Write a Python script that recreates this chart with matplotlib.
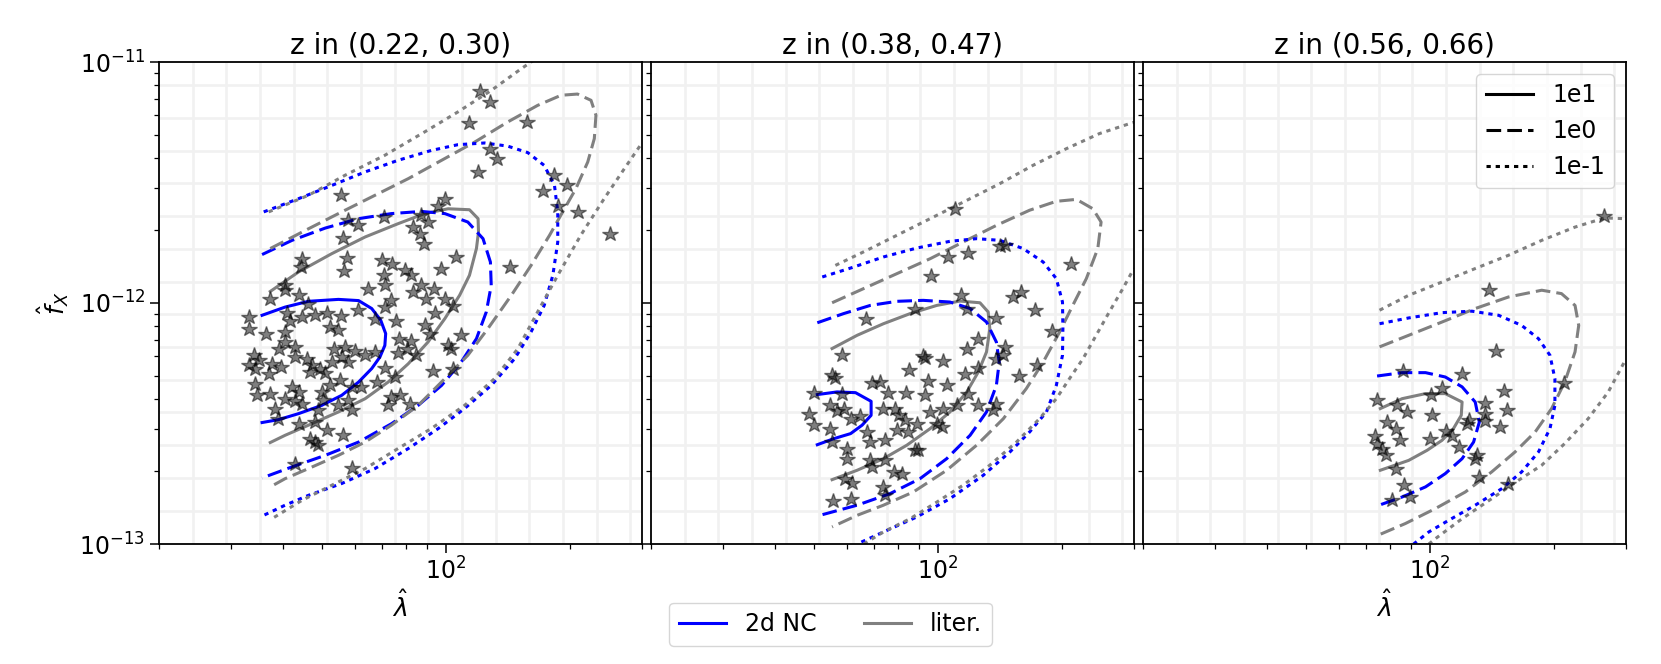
import numpy as np
import matplotlib.pyplot as plt
from matplotlib.lines import Line2D
from matplotlib.ticker import NullFormatter

plt.rcParams['font.size'] = 17

titles = ['z in (0.22, 0.30)', 'z in (0.38, 0.47)', 'z in (0.56, 0.66)']
level_labels = ['1e1', '1e0', '1e-1']
model_labels = ['2d NC', 'liter.']

# stars, (log10 lambda, log10 f_X)
p1_stars = [
    (2.082, -11.122), (2.106, -11.166), (2.055, -11.252), (2.197, -11.249), (2.108, -11.362),
    (2.125, -11.404), (2.078, -11.456), (2.264, -11.467), (2.294, -11.512), (2.235, -11.537),
    (2.272, -11.597), (2.322, -11.622), (2.400, -11.712), (1.998, -11.570), (1.981, -11.597),
    (1.744, -11.550), (1.762, -11.657), (1.785, -11.678), (1.750, -11.729), (1.850, -11.643),
    (1.940, -11.636), (1.956, -11.664), (1.920, -11.685), (1.936, -11.712), (1.947, -11.754),
    (2.025, -11.809), (1.987, -11.860), (2.155, -11.851), (1.649, -11.816), (1.647, -11.851),
    (1.758, -11.813), (1.752, -11.869), (1.845, -11.823), (1.869, -11.837), (1.901, -11.864),
    (1.914, -11.885), (1.850, -11.885), (1.851, -11.924), (1.809, -11.940), (1.608, -11.924),
    (1.607, -11.947), (1.572, -11.982), (1.642, -11.968), (1.665, -12.003), (1.940, -11.924),
    (1.971, -11.940), (1.920, -11.954), (1.952, -11.985), (1.867, -11.989), (1.851, -12.017),
    (1.998, -11.982), (2.017, -12.012), (1.972, -12.040), (1.785, -12.030), (1.744, -12.054),
    (1.710, -12.040), (1.681, -12.051), (1.649, -12.058), (1.612, -12.040), (1.621, -12.076),
    (1.519, -12.058), (1.521, -12.106), (1.561, -12.127), (1.718, -12.100), (1.738, -12.113),
    (1.827, -12.065), (1.877, -12.076), (1.948, -12.093), (1.960, -12.127), (1.885, -12.148),
    (1.914, -12.159), (1.904, -12.189), (1.883, -12.206), (1.928, -12.217), (2.037, -12.131),
    (2.005, -12.176), (2.013, -12.192), (1.608, -12.120), (1.608, -12.162), (1.633, -12.182),
    (1.594, -12.192), (1.726, -12.192), (1.754, -12.182), (1.778, -12.200), (1.803, -12.217),
    (1.827, -12.203), (1.532, -12.217), (1.544, -12.238), (1.519, -12.259), (1.536, -12.272),
    (1.576, -12.252), (1.599, -12.265), (1.568, -12.293), (1.633, -12.224), (1.661, -12.231),
    (1.673, -12.259), (1.722, -12.245), (1.746, -12.224), (1.762, -12.245), (1.693, -12.272),
    (1.706, -12.289), (1.669, -12.286), (1.851, -12.270), (1.875, -12.307), (1.968, -12.283),
    (2.017, -12.272), (1.536, -12.335), (1.540, -12.383), (1.572, -12.376), (1.625, -12.348),
    (1.641, -12.369), (1.608, -12.397), (1.633, -12.408), (1.649, -12.418), (1.697, -12.369),
    (1.701, -12.404), (1.742, -12.321), (1.718, -12.342), (1.770, -12.348), (1.794, -12.348),
    (1.831, -12.328), (1.762, -12.404), (1.770, -12.445), (1.738, -12.425), (1.867, -12.390),
    (1.888, -12.383), (1.859, -12.425), (1.912, -12.418), (1.584, -12.438), (1.592, -12.480),
    (1.641, -12.501), (1.689, -12.445), (1.681, -12.494), (1.710, -12.528), (1.669, -12.563),
    (1.689, -12.590), (1.681, -12.577), (1.750, -12.549), (1.633, -12.667), (1.772, -12.684),
]
p2_stars = [
    (2.041, -11.611), (2.163, -11.758), (2.150, -11.763), (2.023, -11.809), (2.074, -11.791),
    (1.983, -11.888), (2.324, -11.837), (2.183, -11.975), (2.201, -11.954), (2.235, -12.030),
    (2.057, -11.968), (1.944, -12.026), (1.825, -12.068), (2.070, -12.023), (2.141, -12.062),
    (2.278, -12.117), (2.098, -12.151), (2.070, -12.192), (2.163, -12.182), (2.159, -12.217),
    (2.142, -12.231), (1.766, -12.217), (1.964, -12.220), (1.968, -12.228), (2.013, -12.242),
    (1.930, -12.279), (1.742, -12.300), (1.750, -12.311), (2.066, -12.293), (2.098, -12.270),
    (2.241, -12.259), (2.197, -12.303), (1.839, -12.330), (1.859, -12.328), (1.976, -12.325),
    (2.021, -12.342), (1.879, -12.372), (1.922, -12.372), (1.968, -12.383), (2.074, -12.376),
    (2.142, -12.418), (2.134, -12.445), (2.098, -12.425), (2.045, -12.422), (2.013, -12.441),
    (1.697, -12.372), (1.766, -12.376), (1.685, -12.459), (1.697, -12.507), (1.738, -12.425),
    (1.754, -12.449), (1.770, -12.438), (1.787, -12.480), (1.811, -12.469), (1.867, -12.438),
    (1.896, -12.438), (1.904, -12.466), (1.920, -12.487), (1.948, -12.501), (1.981, -12.452),
    (1.997, -12.501), (2.009, -12.514), (1.738, -12.521), (1.742, -12.577), (1.827, -12.535),
    (1.835, -12.577), (1.871, -12.570), (1.900, -12.528), (1.928, -12.535), (1.778, -12.604),
    (1.778, -12.646), (1.835, -12.653), (1.871, -12.653), (1.839, -12.680), (1.892, -12.701),
    (1.912, -12.708), (1.944, -12.611), (1.952, -12.611), (1.774, -12.729), (1.790, -12.745),
    (1.867, -12.763), (1.871, -12.798), (1.744, -12.823), (1.787, -12.812),
]
p3_stars = [
    (2.424, -11.639), (2.144, -11.947), (2.160, -12.200), (1.934, -12.283), (2.078, -12.293),
    (2.327, -12.330), (2.029, -12.353), (2.003, -12.380), (2.179, -12.366), (1.871, -12.404),
    (1.920, -12.425), (1.944, -12.452), (2.005, -12.466), (2.134, -12.413), (2.134, -12.459),
    (2.187, -12.445), (2.094, -12.487), (2.090, -12.501), (2.134, -12.491), (2.171, -12.514),
    (1.896, -12.494), (1.916, -12.521), (1.928, -12.570), (1.867, -12.552), (1.871, -12.583),
    (1.883, -12.604), (1.892, -12.629), (2.001, -12.563), (2.039, -12.532), (2.053, -12.552),
    (2.070, -12.597), (2.114, -12.629), (2.110, -12.646), (2.118, -12.722), (1.917, -12.690),
    (1.936, -12.754), (1.908, -12.819), (1.952, -12.805), (2.191, -12.749),
]

# contours (log10 lambda, log10 f_X); nc = 2d NC, lit = literature
p1_nc_1e1_x = [1.552, 1.608, 1.665, 1.738, 1.787, 1.819, 1.841, 1.853, 1.851, 1.839, 1.819, 1.787, 1.746, 1.697, 1.641, 1.592, 1.552]
p1_nc_1e1_y = [-12.051, -12.017, -11.993, -11.985, -11.990, -12.023, -12.072, -12.127, -12.176, -12.224, -12.272, -12.328, -12.383, -12.425, -12.459, -12.484, -12.496]
p1_lit_1e1_x = [1.572, 1.641, 1.722, 1.803, 1.883, 1.948, 2.005, 2.057, 2.078, 2.079, 2.074, 2.057, 2.033, 1.997, 1.956, 1.908, 1.859, 1.803, 1.738, 1.665, 1.608, 1.572]
p1_lit_1e1_y = [-11.952, -11.871, -11.795, -11.726, -11.671, -11.629, -11.609, -11.613, -11.650, -11.705, -11.774, -11.885, -11.968, -12.065, -12.162, -12.252, -12.328, -12.397, -12.452, -12.507, -12.549, -12.579]
p1_nc_1e0_x = [1.552, 1.625, 1.706, 1.787, 1.867, 1.940, 1.997, 2.053, 2.090, 2.108, 2.110, 2.098, 2.074, 2.037, 1.989, 1.932, 1.867, 1.787, 1.706, 1.625, 1.552]
p1_nc_1e0_y = [-11.799, -11.740, -11.689, -11.650, -11.629, -11.620, -11.629, -11.664, -11.733, -11.830, -11.927, -12.037, -12.148, -12.245, -12.342, -12.425, -12.501, -12.577, -12.632, -12.680, -12.726]
p1_lit_1e0_x = [1.572, 1.665, 1.746, 1.827, 1.908, 1.989, 2.070, 2.150, 2.223, 2.280, 2.320, 2.353, 2.365, 2.361, 2.345, 2.316, 2.284, 2.252, 2.207, 2.159,
                2.102, 2.053, 1.997, 1.932, 1.867, 1.803, 1.738, 1.665, 1.608, 1.572]
p1_lit_1e0_y = [-11.774, -11.692, -11.622, -11.553, -11.484, -11.408, -11.332, -11.249, -11.180, -11.138, -11.133, -11.159, -11.221, -11.318, -11.415, -11.526, -11.622, -11.719, -11.844, -11.968,
                -12.106, -12.217, -12.314, -12.425, -12.507, -12.577, -12.632, -12.687, -12.729, -12.763]
p1_nc_1em1_x = [1.556, 1.641, 1.722, 1.803, 1.883, 1.964, 2.029, 2.094, 2.150, 2.199, 2.239, 2.264, 2.272, 2.272, 2.260, 2.239, 2.207, 2.167, 2.110, 2.045,
                1.981, 1.908, 1.827, 1.746, 1.665, 1.608, 1.556]
p1_nc_1em1_y = [-11.622, -11.567, -11.512, -11.456, -11.408, -11.367, -11.343, -11.336, -11.349, -11.376, -11.429, -11.512, -11.622, -11.747, -11.885, -12.010, -12.120, -12.231, -12.342, -12.438,
                -12.521, -12.604, -12.687, -12.749, -12.798, -12.839, -12.881]
p1_lit_1em1_top_x = [1.568, 1.665, 1.754, 1.851, 1.948, 2.029, 2.110, 2.183, 2.207, 2.240]
p1_lit_1em1_top_y = [-11.622, -11.553, -11.470, -11.387, -11.290, -11.207, -11.118, -11.028, -11.000, -10.960]
p1_lit_1em1_bot_x = [2.520, 2.473, 2.434, 2.385, 2.328, 2.272, 2.223, 2.175, 2.118, 2.045, 1.964, 1.883, 1.803, 1.722, 1.649, 1.576]
p1_lit_1em1_bot_y = [-11.270, -11.346, -11.443, -11.567, -11.719, -11.885, -12.037, -12.189, -12.314, -12.425, -12.521, -12.604, -12.687, -12.756, -12.819, -12.895]

p2_nc_1e1_x = [1.706, 1.754, 1.799, 1.837, 1.837, 1.815, 1.787, 1.746, 1.706]
p2_nc_1e1_y = [-12.380, -12.369, -12.372, -12.408, -12.466, -12.507, -12.542, -12.563, -12.588]
p2_lit_1e1_x = [1.742, 1.803, 1.867, 1.932, 1.997, 2.053, 2.102, 2.122, 2.126, 2.118, 2.098, 2.070, 2.029, 1.981, 1.924, 1.867, 1.803, 1.742]
p2_lit_1e1_y = [-12.189, -12.134, -12.086, -12.044, -12.010, -11.992, -11.999, -12.037, -12.106, -12.203, -12.286, -12.369, -12.452, -12.521, -12.590, -12.646, -12.694, -12.733]
p2_nc_1e0_x = [1.706, 1.770, 1.835, 1.900, 1.964, 2.029, 2.078, 2.118, 2.142, 2.149, 2.142, 2.118, 2.078, 2.021, 1.956, 1.883, 1.803, 1.706]
p2_nc_1e0_y = [-12.082, -12.044, -12.010, -11.993, -11.989, -11.996, -12.023, -12.079, -12.162, -12.245, -12.342, -12.452, -12.549, -12.646, -12.729, -12.791, -12.839, -12.884]
p2_lit_1e0_x = [1.742, 1.819, 1.900, 1.981, 2.061, 2.142, 2.223, 2.288, 2.337, 2.377, 2.397, 2.389, 2.361, 2.328, 2.296, 2.256, 2.215, 2.159, 2.094, 2.021,
                1.940, 1.867, 1.803, 1.742]
p2_lit_1e0_y = [-11.999, -11.940, -11.878, -11.816, -11.747, -11.678, -11.615, -11.578, -11.570, -11.609, -11.664, -11.774, -11.899, -12.010, -12.120, -12.245, -12.355, -12.480, -12.590, -12.694,
                -12.784, -12.839, -12.881, -12.929]
p2_nc_1em1_x = [1.718, 1.787, 1.867, 1.948, 2.029, 2.094, 2.150, 2.207, 2.256, 2.288, 2.303, 2.304, 2.303, 2.288, 2.264, 2.223, 2.175, 2.110, 2.029, 1.948,
                1.867, 1.803]
p2_nc_1em1_y = [-11.892, -11.855, -11.809, -11.772, -11.744, -11.733, -11.740, -11.774, -11.830, -11.899, -11.996, -12.106, -12.217, -12.342, -12.452, -12.535, -12.618, -12.715, -12.812, -12.888,
                -12.950, -13.000]
p2_lit_1em1_top_x = [1.750, 1.827, 1.908, 1.989, 2.070, 2.150, 2.231, 2.312, 2.393, 2.473, 2.520]
p2_lit_1em1_top_y = [-11.844, -11.781, -11.712, -11.643, -11.574, -11.505, -11.429, -11.360, -11.297, -11.252, -11.230]
p2_lit_1em1_bot_x = [2.500, 2.473, 2.450, 2.417, 2.385, 2.353, 2.320, 2.288, 2.247, 2.191, 2.126, 2.061, 1.997, 1.932, 1.867, 1.819]
p2_lit_1em1_bot_y = [-11.820, -11.869, -11.940, -12.037, -12.134, -12.231, -12.314, -12.397, -12.480, -12.577, -12.673, -12.756, -12.826, -12.895, -12.950, -13.000]

p3_lit_1e1_x = [1.879, 1.932, 1.989, 2.037, 2.078, 2.076, 2.057, 2.029, 1.993, 1.948, 1.879]
p3_lit_1e1_y = [-12.438, -12.397, -12.376, -12.376, -12.411, -12.466, -12.521, -12.570, -12.611, -12.653, -12.694]
p3_nc_1e0_x = [1.871, 1.932, 1.989, 2.037, 2.078, 2.110, 2.120, 2.106, 2.078, 2.037, 1.989, 1.932, 1.871]
p3_nc_1e0_y = [-12.303, -12.289, -12.289, -12.307, -12.348, -12.411, -12.494, -12.577, -12.646, -12.708, -12.763, -12.805, -12.842]
p3_lit_1e0_x = [1.877, 1.948, 2.029, 2.110, 2.191, 2.272, 2.320, 2.353, 2.362, 2.353, 2.328, 2.296, 2.256, 2.207, 2.150, 2.086, 2.013, 1.940, 1.877]
p3_lit_1e0_y = [-12.182, -12.134, -12.079, -12.023, -11.975, -11.947, -11.961, -12.010, -12.093, -12.203, -12.328, -12.438, -12.535, -12.618, -12.701, -12.784, -12.853, -12.915, -12.961]
p3_nc_1em1_x = [1.877, 1.948, 2.029, 2.102, 2.167, 2.223, 2.264, 2.292, 2.304, 2.304, 2.292, 2.264, 2.223, 2.175, 2.110, 2.045, 1.997, 1.960]
p3_nc_1em1_y = [-12.086, -12.062, -12.040, -12.034, -12.051, -12.093, -12.148, -12.217, -12.314, -12.425, -12.521, -12.618, -12.701, -12.770, -12.839, -12.902, -12.950, -13.000]
p3_lit_1em1_top_x = [1.877, 1.948, 2.029, 2.110, 2.191, 2.272, 2.353, 2.425, 2.473]
p3_lit_1em1_top_y = [-12.030, -11.968, -11.913, -11.857, -11.802, -11.740, -11.685, -11.647, -11.650]
p3_lit_1em1_bot_x = [2.500, 2.473, 2.434, 2.385, 2.328, 2.272, 2.215, 2.150, 2.078, 2.013, 1.997]
p3_lit_1em1_bot_y = [-12.190, -12.245, -12.369, -12.480, -12.583, -12.673, -12.736, -12.812, -12.895, -12.978, -13.000]

DASH = (0, (4.8, 2.0))
DOT = (0, (1.4, 1.6))
panels = [
    (p1_stars, [
        (p1_nc_1e1_x, p1_nc_1e1_y, 'blue', '-'),
        (p1_lit_1e1_x, p1_lit_1e1_y, 'gray', '-'),
        (p1_nc_1e0_x, p1_nc_1e0_y, 'blue', DASH),
        (p1_lit_1e0_x, p1_lit_1e0_y, 'gray', DASH),
        (p1_nc_1em1_x, p1_nc_1em1_y, 'blue', DOT),
        (p1_lit_1em1_top_x, p1_lit_1em1_top_y, 'gray', DOT),
        (p1_lit_1em1_bot_x, p1_lit_1em1_bot_y, 'gray', DOT),
    ]),
    (p2_stars, [
        (p2_nc_1e1_x, p2_nc_1e1_y, 'blue', '-'),
        (p2_lit_1e1_x, p2_lit_1e1_y, 'gray', '-'),
        (p2_nc_1e0_x, p2_nc_1e0_y, 'blue', DASH),
        (p2_lit_1e0_x, p2_lit_1e0_y, 'gray', DASH),
        (p2_nc_1em1_x, p2_nc_1em1_y, 'blue', DOT),
        (p2_lit_1em1_top_x, p2_lit_1em1_top_y, 'gray', DOT),
        (p2_lit_1em1_bot_x, p2_lit_1em1_bot_y, 'gray', DOT),
    ]),
    (p3_stars, [
        (p3_lit_1e1_x, p3_lit_1e1_y, 'gray', '-'),
        (p3_nc_1e0_x, p3_nc_1e0_y, 'blue', DASH),
        (p3_lit_1e0_x, p3_lit_1e0_y, 'gray', DASH),
        (p3_nc_1em1_x, p3_nc_1em1_y, 'blue', DOT),
        (p3_lit_1em1_top_x, p3_lit_1em1_top_y, 'gray', DOT),
        (p3_lit_1em1_bot_x, p3_lit_1em1_bot_y, 'gray', DOT),
    ]),
]

# evaluation-grid lines (uniform in log space)
grid_lx = np.log10(20) + 0.082 * np.arange(1, 15)
grid_ly = -11.097 - 0.1357 * np.arange(14)

fig = plt.figure(figsize=(16.61, 6.64), dpi=100)
W, H = 1661, 664
lefts = [159, 651, 1143]
axes = []
for i, (stars, curves) in enumerate(panels):
    ax = fig.add_axes([lefts[i] / W, (H - 544) / H, 483 / W, 482 / H])
    ax.set_xscale('log')
    ax.set_yscale('log')
    for gx in grid_lx:
        ax.axvline(10 ** gx, color='0.945', lw=1.9, zorder=0)
    for gy in grid_ly:
        ax.axhline(10 ** gy, color='0.945', lw=1.9, zorder=0)
    for cx, cy, col, ls in curves:
        ax.plot(10 ** np.array(cx), 10 ** np.array(cy), color=col, ls=ls, lw=2.2, zorder=2)
    sx, sy = np.array(stars).T
    ax.plot(10 ** sx, 10 ** sy, '*', color='k', alpha=0.5, ms=11.5, zorder=3)
    ax.set_xlim(20, 300)
    ax.set_ylim(1e-13, 1e-11)
    ax.set_title(titles[i], fontsize=20)
    ax.xaxis.set_minor_formatter(NullFormatter())
    ax.yaxis.set_minor_formatter(NullFormatter())
    ax.tick_params(which='major', length=6.5, width=1.1, labelsize=17)
    ax.tick_params(which='minor', length=3.5, width=0.9)
    for s in ax.spines.values():
        s.set_linewidth(1.3)
    if i > 0:
        ax.set_yticklabels([])
    axes.append(ax)

axes[0].set_ylabel(r'$\hat{f}_X$', fontsize=18, labelpad=6)
axes[0].set_xlabel(r'$\hat{\lambda}$', fontsize=18)
axes[2].set_xlabel(r'$\hat{\lambda}$', fontsize=18)

style_handles = [Line2D([], [], color='k', ls=ls, lw=2.2) for ls in ['-', DASH, DOT]]
axes[2].legend(style_handles, level_labels, loc='upper right', fontsize=17)

model_handles = [Line2D([], [], color=c, lw=2.2) for c in ['blue', 'gray']]
fig.legend(model_handles, model_labels, loc='lower center', ncol=2,
           bbox_to_anchor=(0.5, 0.01), fontsize=17)

fig.savefig('out.png', dpi=100)
